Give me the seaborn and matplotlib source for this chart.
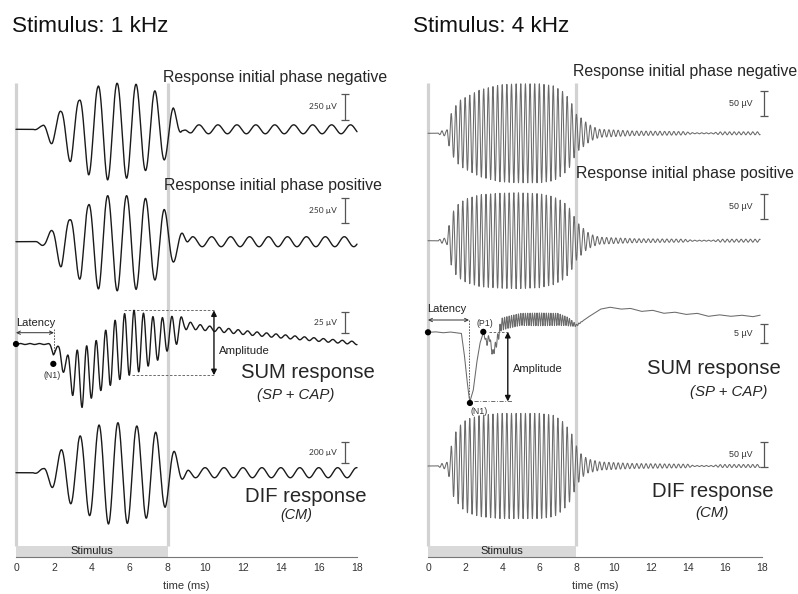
import numpy as np
import pandas as pd
import matplotlib
matplotlib.use("Agg")
import matplotlib.pyplot as plt
import seaborn as sns

# ------------------------------------------------------------------ data
xticks_ms = [0, 2, 4, 6, 8, 10, 12, 14, 16, 18]
stim_on_ms, stim_off_ms = 0.0, 8.0
titles = ["Stimulus: 1 kHz", "Stimulus: 4 kHz"]

# ---- 1 kHz panel (envelope knots in ms, envelope values in µV)
neg1_t = [0, 0.9, 1.36, 1.92, 2.38, 2.91, 3.34, 3.82, 4.31, 4.82, 5.35, 5.84, 6.34, 6.83, 7.28, 7.83, 8.3, 8.75, 9.0]
neg1_env = [0, 0, 32, 151, 176, 327, 276, 439, 411, 488, 442, 471, 433, 397, 378, 295, 212, 22, 0]
pos1_t = [0, 1.0, 1.5, 1.92, 2.41, 2.85, 3.43, 3.82, 4.4, 4.84, 5.37, 5.84, 6.34, 6.84, 7.34, 7.81, 8.34, 8.8, 9.1]
pos1_env = [0, 0, 50, 123, 267, 217, 400, 367, 483, 460, 493, 460, 477, 433, 383, 327, 200, 93, 0]
dif1_t = [0, 0.9, 1.44, 1.94, 2.41, 2.9, 3.38, 3.91, 4.38, 4.88, 5.37, 5.88, 6.37, 6.86, 7.34, 7.87, 8.34, 8.83, 9.1]
dif1_env = [0, 0, 41, 150, 222, 298, 350, 412, 454, 489, 476, 483, 445, 435, 390, 330, 210, 64, 0]
tail1_t = [0, 8.7, 9.3, 18.0]
neg1_tail = [0, 0, 43, 43]
pos1_tail = [0, 0, 50, 50]
dif1_tail = [0, 0, 48, 48]
sum1_t = [0, 1.7, 1.97, 2.2, 2.44, 2.7, 3.0, 3.5, 4.0, 4.5, 5.0, 5.5, 6.0, 6.5, 7.0, 7.5, 8.0, 8.5, 8.9, 9.3, 10.0, 12.3, 15.0, 18.0]
sum1_drift = [0, 0, -7, -6, -18, -29, -36, -40, -32, -23, -12, -5, 2, 3, 4, 6, 12, 17, 24, 21, 19, 13, 7, 1]
sum1_env = [0.6, 0.6, 6, 3.6, 13, 15.5, 26, 36, 32, 32, 37, 37, 39, 36, 30, 25, 20, 17, 7, 3.6, 3, 2.4, 2, 1.8]
n1_1k_ms = 1.97

# ---- 4 kHz panel
neg4_t = [0, 0.5, 0.75, 1.0, 1.2, 1.45, 1.72, 2.08, 2.8, 3.88, 4.78, 6.03, 6.75, 7.29, 7.65, 7.83, 8.01, 8.28, 8.55, 8.9, 9.26, 11.1, 13.8, 14.3, 15.3, 15.8, 17.9]
neg4_env = [0, 0, 5, 5, 36, 53, 66, 73, 87, 97, 99, 99, 95, 83, 67, 53, 37, 30, 21, 13, 8, 4.6, 3.4, 1, 1, 3, 3]
pos4_env = [0, 0, 5, 5, 44, 66, 76, 84, 92, 95, 96, 94, 88, 78, 64, 52, 38, 28, 18, 11, 7, 4, 3, 1, 1, 3, 3]
dif4_t = [0, 0.5, 0.75, 1.0, 1.19, 1.37, 1.72, 2.08, 2.8, 3.88, 6.0, 6.8, 7.29, 7.71, 7.98, 8.25, 8.6, 9.3, 11.0, 14.0, 14.3, 15.3, 15.8, 17.9]
dif4_env = [0, 0, 5, 6, 28, 60, 80, 92, 100, 104, 104, 100, 87, 67, 41, 24, 14, 8, 5, 3.5, 1, 1, 3, 3]
sum4_t = [0, 0.4, 0.8, 1.2, 1.6, 1.8, 1.95, 2.08, 2.21, 2.26, 2.44, 2.62, 2.8, 2.98, 3.17, 3.3, 3.48, 3.7, 3.95, 4.3,
          5.0, 6.0, 7.0, 7.5, 8.0, 8.6, 9.3, 9.8, 10.4, 10.9, 11.5, 12.1, 12.7, 13.3, 13.9, 14.5, 15.1, 15.7, 16.3, 16.9, 17.5, 17.9]
sum4_drift = [0, 0.13, -0.13, 0.08, -0.2, -0.3, -5.5, -11.7, -17, -18.2, -15.2, -8.2, -2.9, 0, -2.9, -1.05, -5.8, -2.6, 2.1, 2.6,
              3.4, 3.4, 3.4, 2.9, 1.8, 3.9, 6.1, 6.6, 6.1, 6.3, 5.5, 5.8, 5.0, 5.3, 4.7, 5.0, 4.2, 4.6, 4.2, 4.5, 4.1, 4.5]
sum4_env_t = [0, 2.9, 3.2, 3.6, 4.0, 5.0, 6.0, 7.0, 7.6, 8.0, 8.4, 17.9]
sum4_env = [0, 0, 0.8, 1.0, 1.6, 1.6, 1.7, 1.6, 1.05, 0.3, 0, 0]
n1_4k_ms = 2.26
p1_4k_ms = 2.98

# scale bars (µV)
bars_1k = [250, 250, 25, 200]
bars_4k = [50, 50, 5, 50]

# ------------------------------------------------------------------ signals
t1 = np.arange(0.0, 18.0001, 0.005)
t4 = np.arange(0.0, 17.9001, 0.005)


def tone(t, kt, kv, f_khz, phase_ms):
    return np.interp(t, kt, kv) * np.cos(2 * np.pi * f_khz * (t - phase_ms))


sig_neg1 = tone(t1, neg1_t, neg1_env, 1.0, 0.34) + tone(t1, tail1_t, neg1_tail, 1.0, 0.66)
sig_pos1 = tone(t1, pos1_t, pos1_env, 1.0, 0.84) + tone(t1, tail1_t, pos1_tail, 1.0, 0.33)
sig_dif1 = tone(t1, dif1_t, dif1_env, 1.0, 0.38) + tone(t1, tail1_t, dif1_tail, 1.0, 0.98)
sig_sum1 = np.interp(t1, sum1_t, sum1_drift) + tone(t1, sum1_t, sum1_env, 2.0, 0.23)

sig_neg4 = tone(t4, neg4_t, neg4_env, 4.0, 0.0)
sig_pos4 = tone(t4, neg4_t, pos4_env, 4.0, 0.125)
sig_dif4 = tone(t4, dif4_t, dif4_env, 4.0, 0.0)
sig_sum4 = np.interp(t4, sum4_t, sum4_drift) + tone(t4, sum4_env_t, sum4_env, 8.0, 0.0)

# ------------------------------------------------------------------ figure
sns.set_style("white")
plt.rcParams["font.family"] = ["Liberation Sans", "DejaVu Sans"]

W, H = 798, 594
fig = plt.figure(figsize=(W / 100, H / 100), dpi=100)


def ftext(x, y, s, **kw):
    fig.text(x / W, 1 - y / H, s, **kw)


def panel(x0, w, zero, ppm):
    ax = fig.add_axes([x0 / W, 0, w / W, 1])
    ax.patch.set_alpha(0)
    return ax, (-(zero - x0) / ppm, (x0 + w - zero) / ppm)


axL, limL = panel(0, 400, 16, 18.944)
axR, limR = panel(400, 398, 428, 18.556)

dark = "#1a1a1a"
grayline = "#6a6a6a"


def draw_trace(ax, t, sig, base, scale, color, lw):
    df = pd.DataFrame({"t": t, "y": base - sig * scale})
    sns.lineplot(data=df, x="t", y="y", ax=ax, color=color, lw=lw,
                 estimator=None, sort=False, legend=False, zorder=3)


def frame(ax, lim):
    ax.vlines([stim_on_ms, stim_off_ms], 83, 546, color="#d2d2d2", lw=2.3, zorder=0)
    ax.fill_between([stim_on_ms, stim_off_ms], 546, 556.5, color="#d9d9d9", lw=0, zorder=0)
    ax.text((stim_on_ms + stim_off_ms) / 2, 551.5, "Stimulus", ha="center", va="center",
            fontsize=8, color="#222222")
    ax.text(9, 589, "time (ms)", ha="center", va="baseline", fontsize=8, color="#333333")
    for s in ["top", "left", "right"]:
        ax.spines[s].set_visible(False)
    ax.spines["bottom"].set_position(("data", 556.5))
    ax.spines["bottom"].set_bounds(0, 18)
    ax.spines["bottom"].set_color("#777777")
    ax.spines["bottom"].set_linewidth(0.8)
    ax.set_xticks(xticks_ms)
    ax.set_xticklabels([str(v) for v in xticks_ms])
    ax.tick_params(axis="x", direction="in", length=4, width=0.8, color="#777777",
                   labelsize=7.5, labelcolor="#333333", pad=5)
    ax.set_yticks([])
    ax.set_xlabel("")
    ax.set_ylabel("")
    ax.set_xlim(*lim)
    ax.set_ylim(H, 0)


def scalebar(ax, x, top, uv, scale, label, dx, font, size):
    half = uv * scale / 2
    ax.errorbar([x], [top + half], yerr=[half], fmt="none", ecolor="#555555",
                elinewidth=0.9, capsize=2.6, capthick=0.9, zorder=3)
    ax.text(x - dx, top + half, label, ha="right", va="center", fontsize=size,
            color="#333333", family=font)


# ---------------- left panel (1 kHz)
L_base = [129.3, 241.7, 344.0, 472.7]
L_scale = [0.104, 0.100, 0.84, 0.105]
L_bar_top = [94, 198, 311.7, 442]
for sig, b, s in zip([sig_neg1, sig_pos1, sig_sum1, sig_dif1], L_base, L_scale):
    draw_trace(axL, t1, sig, b, s, dark, 1.0)
for uv, b, top, s in zip(bars_1k, L_base, L_bar_top, L_scale):
    scalebar(axL, 17.37, top, uv, s, f"{uv} µV", 0.42, ["Lato", "DejaVu Sans"], 6)

yL = lambda v: L_base[2] - v * L_scale[2]
win_pk = (t1 > 5.5) & (t1 < 7.0)
pk_v = sig_sum1[win_pk].max()
win_tr = (t1 > 5.8) & (t1 < 6.15)
tr_v = sig_sum1[win_tr].min()
arrow_x = 10.45
axL.plot([5.7, arrow_x], [yL(pk_v)] * 2, ls=(0, (3, 2)), lw=0.6, color="#555555", zorder=2)
axL.plot([6.1, arrow_x], [yL(tr_v)] * 2, ls=(0, (3, 2)), lw=0.6, color="#555555", zorder=2)
axL.annotate("", xy=(arrow_x, yL(pk_v)), xytext=(arrow_x, yL(tr_v)),
             arrowprops=dict(arrowstyle="<|-|>", lw=1.0, color="#111111",
                             mutation_scale=8, shrinkA=0, shrinkB=0))
axL.text(10.72, 350.5, "Amplitude", ha="left", va="center", fontsize=8.2, color="#222222")
n1_v = np.interp(n1_1k_ms, t1, sig_sum1)
lat_y = 332.7
axL.annotate("", xy=(0, lat_y), xytext=(n1_1k_ms + 0.03, lat_y),
             arrowprops=dict(arrowstyle="<->", lw=0.7, color="#333333",
                             mutation_scale=6, shrinkA=0, shrinkB=0))
axL.plot([n1_1k_ms + 0.03] * 2, [lat_y - 4, yL(n1_v) - 3], ls=(0, (2, 1.5)), lw=0.6, color="#444444")
axL.text(n1_1k_ms / 2 + 0.05, 326, "Latency", ha="center", va="baseline", fontsize=8, color="#222222")
sns.scatterplot(x=[0.0, n1_1k_ms], y=[yL(0.0), yL(n1_v) + 9], ax=axL, color="black",
                s=20, edgecolor="none", legend=False, zorder=5)
axL.text(n1_1k_ms - 0.05, 375, "(N1)", ha="center", va="center", fontsize=6.3, color="#333333")

frame(axL, limL)

# ---------------- right panel (4 kHz)
R_base = [133.3, 240.7, 332.3, 466.0]
R_scale = [0.5, 0.5, 3.8, 0.506]
R_bar_top = [90.7, 194, 324, 441.7]
for sig, b, s in zip([sig_neg4, sig_pos4, sig_sum4, sig_dif4], R_base, R_scale):
    draw_trace(axR, t4, sig, b, s, grayline, 0.75)
for uv, b, top, s in zip(bars_4k, R_base, R_bar_top, R_scale):
    scalebar(axR, 18.1, top, uv, s, f"{uv} µV", 0.59, ["Liberation Sans", "DejaVu Sans"], 6.4)

yR = lambda v: R_base[2] - v * R_scale[2]
n1v4 = np.interp(n1_4k_ms, t4, sig_sum4)
p1v4 = np.interp(p1_4k_ms, t4, sig_sum4)
lat_y4 = 320
axR.annotate("", xy=(0, lat_y4), xytext=(n1_4k_ms - 0.05, lat_y4),
             arrowprops=dict(arrowstyle="<->", lw=0.7, color="#333333",
                             mutation_scale=6, shrinkA=0, shrinkB=0))
axR.plot([n1_4k_ms - 0.05] * 2, [lat_y4, yR(n1v4)], ls=(0, (2, 1.5)), lw=0.6, color="#444444", zorder=2)
axR.text(1.02, 312.5, "Latency", ha="center", va="baseline", fontsize=8, color="#222222")
amp_x4 = 4.3
axR.plot([p1_4k_ms + 0.3, amp_x4], [yR(p1v4)] * 2, ls=(0, (3, 2)), lw=0.6, color="#555555")
axR.plot([n1_4k_ms + 0.2, 4.5], [yR(n1v4)] * 2, ls=(0, (5, 2, 1, 2)), lw=0.6, color="#555555")
axR.annotate("", xy=(amp_x4, yR(p1v4)), xytext=(amp_x4, yR(n1v4)),
             arrowprops=dict(arrowstyle="<|-|>", lw=1.0, color="#111111",
                             mutation_scale=8, shrinkA=0, shrinkB=0))
axR.text(4.6, 369, "Amplitude", ha="left", va="center", fontsize=8, color="#222222")
sns.scatterplot(x=[0.0, n1_4k_ms, p1_4k_ms], y=[yR(0.0), yR(n1v4) + 1.5, yR(p1v4)], ax=axR,
                color="black", s=20, edgecolor="none", legend=False, zorder=5)
axR.text(2.75, 411.5, "(N1)", ha="center", va="center", fontsize=6.3, color="#333333")
axR.text(3.06, 324, "(P1)", ha="center", va="center", fontsize=6.3, color="#333333")

frame(axR, limR)

# ---------------- texts
ftext(11.5, 31.5, titles[0], fontsize=16.2, color="#111111", va="baseline")
ftext(413, 31.5, titles[1], fontsize=16.2, color="#111111", va="baseline")
ftext(163.3, 82.3, "Response initial phase negative", fontsize=11.4, va="baseline")
ftext(163.8, 190, "Response initial phase positive", fontsize=11.4, va="baseline")
ftext(573.3, 76, "Response initial phase negative", fontsize=11.4, va="baseline")
ftext(575.7, 178.3, "Response initial phase positive", fontsize=11.4, va="baseline")
ftext(240.7, 378.3, "SUM response", fontsize=14.6, va="baseline")
ftext(256.7, 399.5, "(SP + CAP)", fontsize=10.8, style="italic", va="baseline")
ftext(647.3, 374, "SUM response", fontsize=14.6, va="baseline")
ftext(690, 396, "(SP + CAP)", fontsize=10.8, style="italic", va="baseline")
ftext(245, 502.3, "DIF response", fontsize=14.6, va="baseline")
ftext(280, 519.5, "(CM)", fontsize=10.4, style="italic", va="baseline")
ftext(651.7, 497, "DIF response", fontsize=14.6, va="baseline")
ftext(695, 517, "(CM)", fontsize=10.8, style="italic", va="baseline")

fig.savefig("out.png", dpi=100)
